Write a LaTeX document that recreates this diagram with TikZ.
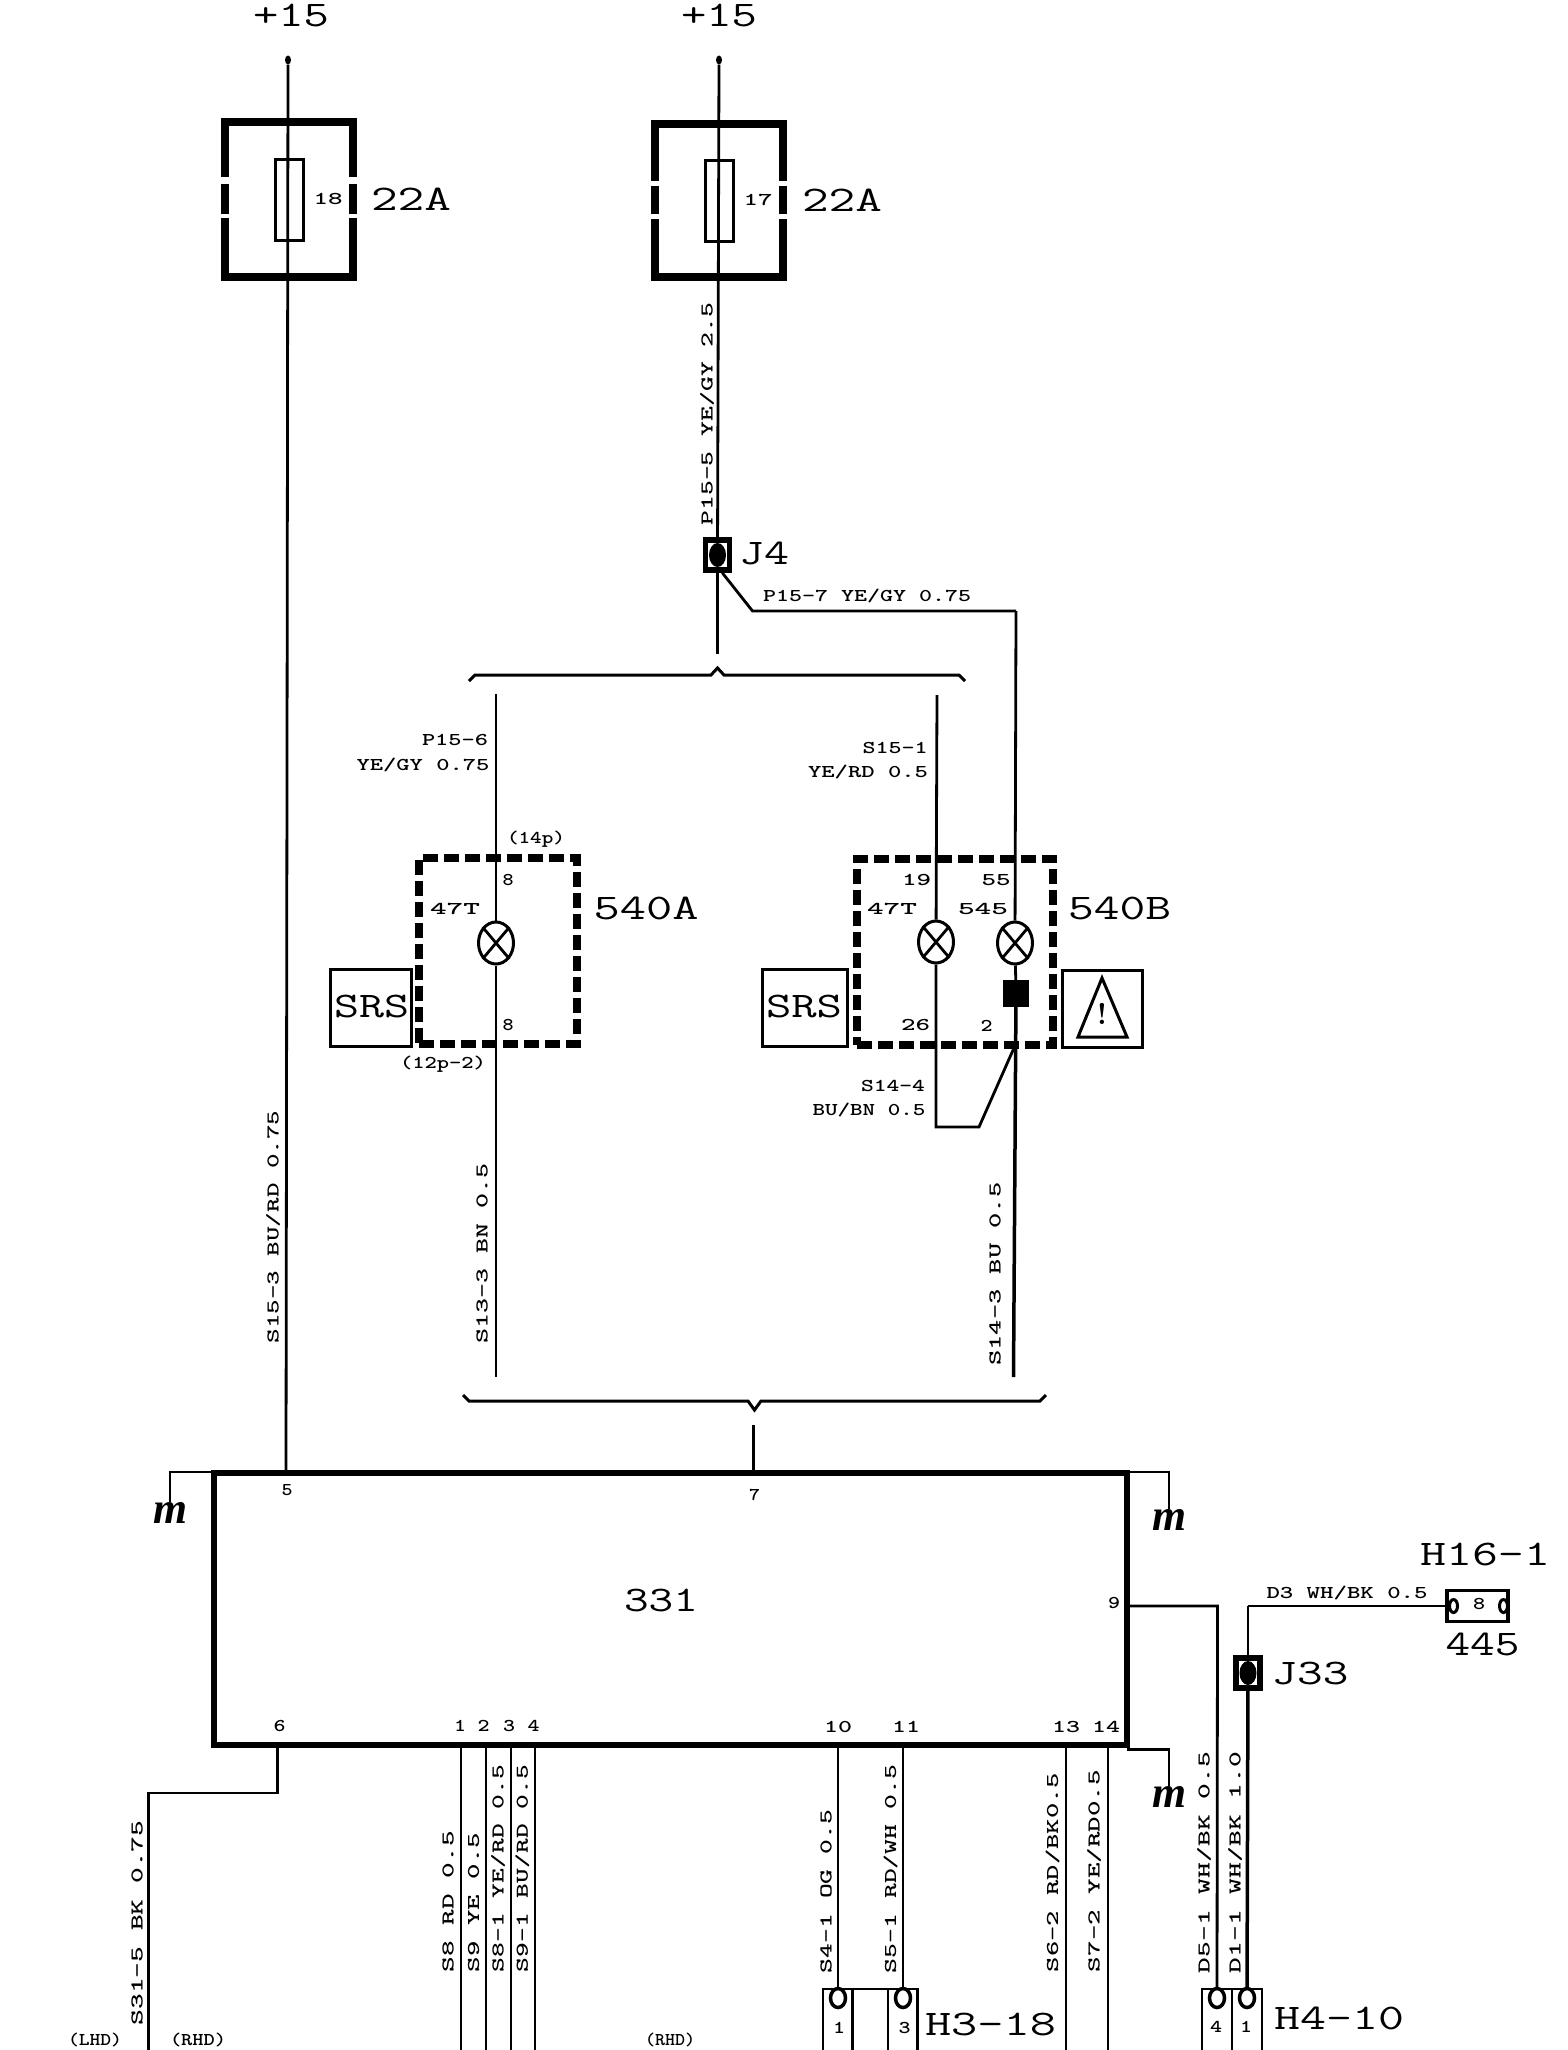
\documentclass[tikz,border=0pt]{standalone}
\usepackage{fontspec}
\usetikzlibrary{positioning,shapes.geometric}
\newfontfamily\groundFont{Liberation Serif}[Scale=1]
\tikzstyle{wiring} = [x = 1pt, y = -1pt, every node/.style={inner sep=0pt}]
\tikzstyle{wireLine} = [color=black, line width=2.8pt]
\tikzstyle{heavyWire} = [color=black, line width=3.5pt]
\tikzstyle{frameLine} = [color=black, line width=7.5pt, line join=miter]
\tikzstyle{bodyLine} = [draw, line width=3pt, minimum width=28pt, minimum height=81pt]
\tikzstyle{spliceBox} = [draw, line width=5.5pt, minimum width=24pt, minimum height=30pt]
\tikzstyle{spliceDot} = [ellipse, fill=black, minimum width=17pt, minimum height=24pt]
\tikzstyle{lampStyle} = [ellipse, draw, fill=white, line width=3pt, minimum width=35pt, minimum height=42pt]
\tikzstyle{lampFrame} = [draw, line width=8pt, dash pattern=on 15pt off 6pt]
\tikzstyle{iconBox} = [draw, line width=3pt, minimum width=81pt, minimum height=77pt]
\tikzstyle{ecuStyle} = [draw, line width=6pt, minimum width=913pt, minimum height=272pt]
\tikzstyle{pinOval} = [ellipse, draw, fill=white, line width=3.5pt, minimum width=15pt, minimum height=19pt]
\tikzstyle{braceLine} = [color=black, line width=3pt]
\newcommand{\smallFont}{\ttfamily\bfseries\fontsize{18}{20}\selectfont}
\newcommand{\bigFont}{\ttfamily\fontsize{36}{38}\selectfont}
\newcommand{\flatLabel}[5]{\node (#1) at (#2,#3) {\resizebox{#4pt}{\height}{\smallFont #5}};}
\newcommand{\riseLabel}[5]{\node [rotate=90] (#1) at (#2,#3) {\resizebox{#4pt}{\height}{\smallFont #5}};}
\newcommand{\bigLabel}[5]{\node (#1) at (#2,#3) {\resizebox{#4pt}{\height}{\bigFont #5}};}
\newcommand{\lamp}[3]{
  \node [lampStyle] (#1) at (#2,#3) {};
  \draw [wireLine] (#1.north west) -- (#1.south east);
  \draw [wireLine] (#1.north east) -- (#1.south west);
}
\newcommand{\fuseFrame}[8]{
  \draw [frameLine] (#1,#5) -- (#1,#3) -- (#2,#3) -- (#2,#5);
  \draw [frameLine] (#1,#6) -- (#1,#7);
  \draw [frameLine] (#2,#6) -- (#2,#7);
  \draw [frameLine] (#1,#8) -- (#1,#4) -- (#2,#4) -- (#2,#8);
}
\newcommand{\splice}[3]{
  \node [spliceBox] (#1) at (#2,#3) {};
  \node [spliceDot] (#1Dot) at (#2,#3) {};
}
\newcommand{\groundMark}[3]{\node (#1) at (#2,#3) {\resizebox{34pt}{21pt}{\groundFont\bfseries\itshape m}};}
\begin{document}
\begin{tikzpicture}[wiring]
  \useasboundingbox (0,0) rectangle (1568,2050);
  \clip (0,0) rectangle (1568,2050);

  % fuses
  \bigLabel{plusA}{291}{16}{76}{+15}
  \bigLabel{plusB}{719}{16}{76}{+15}
  \node [ellipse, fill=black, minimum width=6pt, minimum height=9pt] (feedA) at (288,60) {};
  \node [ellipse, fill=black, minimum width=6pt, minimum height=9pt] (feedB) at (719,60) {};
  \fuseFrame{225}{353}{122}{277}{177}{184}{214}{218}
  \fuseFrame{655}{783}{124}{277}{181}{186}{214}{219}
  \node [bodyLine] (fuseA) at (289.5,199.5) {};
  \node [bodyLine] (fuseB) at (719,201) {};
  \flatLabel{fuseNumA}{328}{199}{29}{18}
  \flatLabel{fuseNumB}{758}{200}{29}{17}
  \bigLabel{ampA}{411}{199}{80}{22A}
  \bigLabel{ampB}{842}{200}{80}{22A}

  % junction J4
  \splice{spliceFour}{717.5}{555}
  \bigLabel{spliceFourName}{764}{553}{50}{J4}
  \coordinate (stubEnd) at (717.5,654);
  \coordinate (bendFour) at (752.5,611);
  \coordinate (bendFive) at (1016,611);
  \draw [wireLine] (feedB) -- (spliceFour);
  \draw [wireLine] (spliceFour) -- (stubEnd);
  \draw [wireLine] (spliceFour.south east) ++(-10,0) -- (bendFour) -- (bendFive);
  \riseLabel{wireP155}{707}{414}{223}{P15-5 YE/GY 2.5}
  \flatLabel{wireP157}{867}{595.5}{208}{P15-7 YE/GY 0.75}

  % upper brace
  \draw [braceLine] (469,681) -- (475,675) -- (711,675) -- (717.5,668) -- (724,675) -- (959,675) -- (965,681);

  % combi instrument, A side
  \node [lampFrame, minimum width=158pt, minimum height=186pt] (frameA) at (498,951) {};
  \lamp{lampA}{496}{943}
  \coordinate (lampTopA) at (496,694);
  \coordinate (lampLowA) at (496,1377);
  \draw [wireLine] (lampTopA) -- (lampA);
  \draw [wireLine] (lampA) -- (lampLowA);
  \flatLabel{wireP156}{455}{739.5}{66}{P15-6}
  \flatLabel{wireP156b}{423}{765}{133}{YE/GY 0.75}
  \flatLabel{plugTop}{536}{839}{58}{(14p)}
  \flatLabel{pinEightT}{508}{880}{11}{8}
  \flatLabel{bulbA}{455}{909}{50}{47T}
  \flatLabel{pinEightB}{508}{1025}{11}{8}
  \flatLabel{plugLow}{443}{1064}{86}{(12p-2)}
  \bigLabel{nameA}{646}{908}{105}{540A}
  \node [iconBox] (srsBoxA) at (370.5,1007.5) {};
  \bigLabel{srsA}{371.5}{1006}{75}{SRS}

  % combi instrument, B side
  \node [lampFrame, minimum width=196pt, minimum height=186pt] (frameB) at (955,952) {};
  \lamp{lampB}{936}{942}
  \lamp{lampC}{1015}{943}
  \node [fill=black, minimum width=26pt, minimum height=27pt] (diodeC) at (1016,993.5) {};
  \coordinate (lampTopB) at (937,695);
  \coordinate (lampLowB) at (936,1127);
  \coordinate (bendSix) at (979,1127);
  \coordinate (mergeC) at (1013.5,1049);
  \coordinate (lampLowC) at (1013.5,1377);
  \draw [wireLine] (lampTopB) -- (lampB);
  \draw [wireLine] (lampB) -- (lampLowB) -- (bendSix) -- (mergeC);
  \draw [wireLine] (bendFive) -- (lampC);
  \draw [wireLine] (lampC) -- (diodeC);
  \draw [heavyWire] (diodeC) -- (lampLowC);
  \flatLabel{wireS151}{895}{748}{65}{S15-1}
  \flatLabel{wireS151b}{868}{772}{120}{YE/RD 0.5}
  \flatLabel{pinNineteen}{916.5}{880}{29}{19}
  \flatLabel{pinFiftyFive}{996}{880}{29}{55}
  \flatLabel{bulbB}{892}{909}{50}{47T}
  \flatLabel{bulbC}{983}{909}{50}{545}
  \flatLabel{pinTwentySix}{915.5}{1025}{29}{26}
  \flatLabel{pinTwo}{986.6}{1026}{12}{2}
  \flatLabel{wireS144}{893}{1086}{64}{S14-4}
  \flatLabel{wireS144b}{869}{1109.5}{113}{BU/BN 0.5}
  \bigLabel{nameB}{1119.5}{908}{103}{540B}
  \node [iconBox, minimum width=85pt] (srsBoxB) at (804.5,1008) {};
  \bigLabel{srsB}{804}{1006}{76}{SRS}
  \node [iconBox, minimum width=80pt] (warnBox) at (1102,1009) {};
  \draw [line width=3pt, line join=miter] (1102,978) -- (1127,1037) -- (1078,1037) -- cycle;
  \node [font=\bfseries\fontsize{30}{30}\selectfont] (warnMark) at (1102,1014) {!};

  \riseLabel{wireS153}{273}{1227}{233}{S15-3 BU/RD 0.75}
  \riseLabel{wireS133}{482}{1253}{180}{S13-3 BN 0.5}
  \riseLabel{wireS143}{995}{1274}{183}{S14-3 BU 0.5}

  % lower brace
  \draw [braceLine] (463,1395) -- (469,1401) -- (748,1401) -- (754.5,1410) -- (761,1401) -- (1040,1401) -- (1046,1395);

  % control module
  \node [ecuStyle] (ecu) at (670.5,1609) {};
  \bigLabel{ecuName}{661}{1600.5}{74}{331}
  \coordinate (pinFive) at (286,1472);
  \coordinate (pinSeven) at (753.6,1472);
  \coordinate (stemTop) at (753.6,1425);
  \draw [wireLine] (feedA) -- (pinFive);
  \draw [wireLine] (stemTop) -- (pinSeven);
  \flatLabel{numFive}{287}{1490}{11}{5}
  \flatLabel{numSeven}{754.6}{1494.5}{11}{7}
  \flatLabel{numSix}{279.6}{1725.5}{12}{6}
  \flatLabel{numOne}{460}{1726}{12}{1}
  \flatLabel{numTwo}{483.7}{1726}{12}{2}
  \flatLabel{numThree}{509}{1726}{12}{3}
  \flatLabel{numFour}{533.7}{1726}{12}{4}
  \flatLabel{numTen}{838}{1727}{28}{10}
  \flatLabel{numEleven}{906}{1727}{28}{11}
  \flatLabel{numThirteen}{1066}{1727}{28}{13}
  \flatLabel{numFourteen}{1106}{1727}{28}{14}
  \flatLabel{numNine}{1114}{1603}{12}{9}

  % grounds
  \groundMark{groundA}{170}{1513}
  \groundMark{groundB}{1169}{1520}
  \groundMark{groundC}{1169}{1797}
  \coordinate (ecuTopLeft) at (214,1472);
  \coordinate (ecuTopRight) at (1127,1472);
  \coordinate (ecuLowRight) at (1127,1749.5);
  \draw [wireLine] (ecuTopLeft) -| (groundA);
  \draw [wireLine] (ecuTopRight) -| (groundB);
  \draw [wireLine] (ecuLowRight) -| (groundC);

  % harness, left
  \foreach \wireName/\wireX in {One/461,Two/486,Three/511,Four/535} {
    \coordinate (pin\wireName) at (\wireX,1745);
    \coordinate (low\wireName) at (\wireX,2055);
    \draw [wireLine] (pin\wireName) -- (low\wireName);
  }
  \coordinate (pinSix) at (277.5,1745);
  \coordinate (lowSix) at (148.5,2055);
  \draw [wireLine] (pinSix) |- (148.5,1793) -- (lowSix);
  \riseLabel{wireS315}{137}{1923}{205}{S31-5 BK 0.75}
  \riseLabel{wireS8}{448}{1901.5}{141}{S8 RD 0.5}
  \riseLabel{wireS9}{473.5}{1902.5}{139}{S9 YE 0.5}
  \riseLabel{wireS81}{498}{1868.5}{207}{S8-1 YE/RD 0.5}
  \riseLabel{wireS91}{522.4}{1868.5}{207}{S9-1 BU/RD 0.5}
  \flatLabel{sideLeft}{95}{2040}{54}{(LHD)}
  \flatLabel{sideRight}{198}{2040}{56}{(RHD)}
  \flatLabel{sideMiddle}{670}{2040}{50}{(RHD)}

  % connector H3-18
  \node [pinOval] (ovalOne) at (838,1998) {};
  \node [pinOval] (ovalThree) at (903,1998) {};
  \coordinate (pinTen) at (838,1745);
  \coordinate (pinEleven) at (903,1745);
  \draw [wireLine] (pinTen) -- (ovalOne);
  \draw [wireLine] (pinEleven) -- (ovalThree);
  \draw [wireLine] (823,2055) -- (823,1989) -- (917.5,1989) -- (917.5,2055);
  \draw [wireLine] (852.5,1989) -- (852.5,2055);
  \draw [wireLine] (888,1989) -- (888,2055);
  \flatLabel{plugNumOne}{839}{2028}{12}{1}
  \flatLabel{plugNumThree}{904.5}{2028}{12}{3}
  \bigLabel{plugHthree}{990.5}{2024}{131}{H3-18}
  \riseLabel{wireS41}{826}{1891.5}{163}{S4-1 OG 0.5}
  \riseLabel{wireS51}{890.7}{1869}{208}{S5-1 RD/WH 0.5}

  % harness, right
  \coordinate (pinThirteen) at (1066,1745);
  \coordinate (lowThirteen) at (1066,2055);
  \coordinate (pinFourteen) at (1108,1745);
  \coordinate (lowFourteen) at (1108,2055);
  \draw [wireLine] (pinThirteen) -- (lowThirteen);
  \draw [wireLine] (pinFourteen) -- (lowFourteen);
  \riseLabel{wireS62}{1052.5}{1872.5}{199}{S6-2 RD/BK0.5}
  \riseLabel{wireS72}{1094}{1871}{202}{S7-2 YE/RD0.5}

  % connector H4-10 and splice J33
  \node [pinOval] (ovalFour) at (1217,1998) {};
  \node [pinOval] (ovalFirst) at (1247,1998) {};
  \splice{spliceThree}{1248}{1673}
  \coordinate (pinNine) at (1127,1606);
  \coordinate (bendNine) at (1217.5,1606);
  \coordinate (bendThree) at (1248,1606);
  \draw [wireLine] (pinNine) -- (bendNine) -- (ovalFour);
  \draw [wireLine] (spliceThree) -- (bendThree);
  \draw [heavyWire] (spliceThree) -- (ovalFirst);
  \draw [wireLine] (1202,2055) -- (1202,1989) -- (1262,1989) -- (1262,2055);
  \draw [wireLine] (1232,1989) -- (1232,2055);
  \flatLabel{plugNumFour}{1216}{2027}{12}{4}
  \flatLabel{plugNumFirst}{1246}{2027}{12}{1}
  \bigLabel{plugHfour}{1339}{2018}{130}{H4-10}
  \bigLabel{spliceThreeName}{1310}{1673.5}{77}{J33}
  \riseLabel{wireD51}{1204}{1862.5}{221}{D5-1 WH/BK 0.5}
  \riseLabel{wireD11}{1235}{1862.5}{221}{D1-1 WH/BK 1.0}

  % connector 445
  \node [draw, line width=3.5pt, minimum width=61pt, minimum height=31pt] (plugEight) at (1477.5,1606) {};
  \node [ellipse, draw, fill=white, line width=3pt, minimum width=8pt, minimum height=13pt] (ovalEightL) at (1453.5,1606) {};
  \node [ellipse, draw, fill=white, line width=3pt, minimum width=8pt, minimum height=13pt] (ovalEightR) at (1503.5,1606) {};
  \draw [wireLine] (bendThree) -- (ovalEightL);
  \flatLabel{plugNumEight}{1479}{1604}{12}{8}
  \flatLabel{wireD3}{1347}{1593}{161}{D3 WH/BK 0.5}
  \bigLabel{plugHsixteen}{1485}{1554}{130}{H16-1}
  \bigLabel{plugName}{1482.5}{1644.5}{74}{445}
\end{tikzpicture}
\end{document}
